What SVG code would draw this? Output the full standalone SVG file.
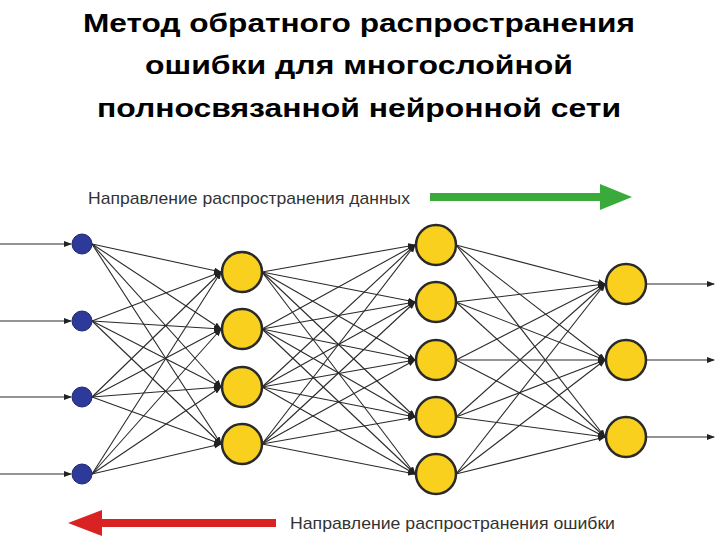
<svg xmlns="http://www.w3.org/2000/svg" width="720" height="540" viewBox="0 0 720 540">
<style>
.t{font-family:"Liberation Sans",Arial,sans-serif;font-weight:bold;font-size:26px;fill:#000;text-anchor:middle}
.l{font-family:"Liberation Sans",Arial,sans-serif;font-size:17px;fill:#333}
.c line{stroke:#2a2a2a;stroke-width:1.1;marker-end:url(#a)}
.in{fill:#2e3a9a;stroke:#1e2670;stroke-width:1}
.n{fill:#f9d01e;stroke:#2a2a2a;stroke-width:2.5}
</style>
<defs><marker id="a" markerWidth="8" markerHeight="8" refX="7" refY="3" orient="auto" markerUnits="userSpaceOnUse"><path d="M0,0L8,3L0,6z" fill="#222"/></marker></defs>
<text class="t" x="359" y="32" textLength="552" lengthAdjust="spacingAndGlyphs">Метод обратного распространения</text>
<text class="t" x="359" y="74" textLength="428" lengthAdjust="spacingAndGlyphs">ошибки для многослойной</text>
<text class="t" x="359" y="117" textLength="524" lengthAdjust="spacingAndGlyphs">полносвязанной нейронной сети</text>
<text class="l" x="88" y="204" textLength="322" lengthAdjust="spacingAndGlyphs">Направление распространения данных</text>
<path d="M430,193H600V184L632,197L600,210V201H430z" fill="#3aaa3a"/>
<text class="l" x="290" y="529" textLength="325" lengthAdjust="spacingAndGlyphs">Направление распространения ошибки</text>
<path d="M276,519H102V510L68,523L102,536V527H276z" fill="#d92323"/>
<g class="c" id="connectors">
<line x1="0" y1="244" x2="71" y2="244"/><line x1="0" y1="321" x2="71" y2="321"/><line x1="0" y1="397" x2="71" y2="397"/><line x1="0" y1="474" x2="71" y2="474"/>
<line x1="647" y1="284" x2="714" y2="284"/><line x1="647" y1="360" x2="714" y2="360"/><line x1="647" y1="437" x2="714" y2="437"/>
<line x1="92" y1="244" x2="221" y2="272"/><line x1="92" y1="244" x2="221" y2="329"/><line x1="92" y1="244" x2="221" y2="387"/><line x1="92" y1="244" x2="221" y2="444"/>
<line x1="92" y1="321" x2="221" y2="272"/><line x1="92" y1="321" x2="221" y2="329"/><line x1="92" y1="321" x2="221" y2="387"/><line x1="92" y1="321" x2="221" y2="444"/>
<line x1="92" y1="397" x2="221" y2="272"/><line x1="92" y1="397" x2="221" y2="329"/><line x1="92" y1="397" x2="221" y2="387"/><line x1="92" y1="397" x2="221" y2="444"/>
<line x1="92" y1="474" x2="221" y2="272"/><line x1="92" y1="474" x2="221" y2="329"/><line x1="92" y1="474" x2="221" y2="387"/><line x1="92" y1="474" x2="221" y2="444"/>
<line x1="262" y1="272" x2="415" y2="245"/><line x1="262" y1="272" x2="415" y2="302"/><line x1="262" y1="272" x2="415" y2="360"/><line x1="262" y1="272" x2="415" y2="417"/><line x1="262" y1="272" x2="415" y2="474"/>
<line x1="262" y1="329" x2="415" y2="245"/><line x1="262" y1="329" x2="415" y2="302"/><line x1="262" y1="329" x2="415" y2="360"/><line x1="262" y1="329" x2="415" y2="417"/><line x1="262" y1="329" x2="415" y2="474"/>
<line x1="262" y1="387" x2="415" y2="245"/><line x1="262" y1="387" x2="415" y2="302"/><line x1="262" y1="387" x2="415" y2="360"/><line x1="262" y1="387" x2="415" y2="417"/><line x1="262" y1="387" x2="415" y2="474"/>
<line x1="262" y1="444" x2="415" y2="245"/><line x1="262" y1="444" x2="415" y2="302"/><line x1="262" y1="444" x2="415" y2="360"/><line x1="262" y1="444" x2="415" y2="417"/><line x1="262" y1="444" x2="415" y2="474"/>
<line x1="456" y1="245" x2="605" y2="284"/><line x1="456" y1="245" x2="605" y2="360"/><line x1="456" y1="245" x2="605" y2="437"/>
<line x1="456" y1="302" x2="605" y2="284"/><line x1="456" y1="302" x2="605" y2="360"/><line x1="456" y1="302" x2="605" y2="437"/>
<line x1="456" y1="360" x2="605" y2="284"/><line x1="456" y1="360" x2="605" y2="360"/><line x1="456" y1="360" x2="605" y2="437"/>
<line x1="456" y1="417" x2="605" y2="284"/><line x1="456" y1="417" x2="605" y2="360"/><line x1="456" y1="417" x2="605" y2="437"/>
<line x1="456" y1="474" x2="605" y2="284"/><line x1="456" y1="474" x2="605" y2="360"/><line x1="456" y1="474" x2="605" y2="437"/>
</g>
<g id="input"><circle class="in" cx="82" cy="244" r="10"/><circle class="in" cx="82" cy="321" r="10"/><circle class="in" cx="82" cy="397" r="10"/><circle class="in" cx="82" cy="474" r="10"/></g>
<g id="hidden1"><circle class="n" cx="242" cy="272" r="20"/><circle class="n" cx="242" cy="329" r="20"/><circle class="n" cx="242" cy="387" r="20"/><circle class="n" cx="242" cy="444" r="20"/></g>
<g id="hidden2"><circle class="n" cx="436" cy="245" r="20"/><circle class="n" cx="436" cy="302" r="20"/><circle class="n" cx="436" cy="360" r="20"/><circle class="n" cx="436" cy="417" r="20"/><circle class="n" cx="436" cy="474" r="20"/></g>
<g id="output"><circle class="n" cx="626" cy="284" r="20"/><circle class="n" cx="626" cy="360" r="20"/><circle class="n" cx="626" cy="437" r="20"/></g>
</svg>
